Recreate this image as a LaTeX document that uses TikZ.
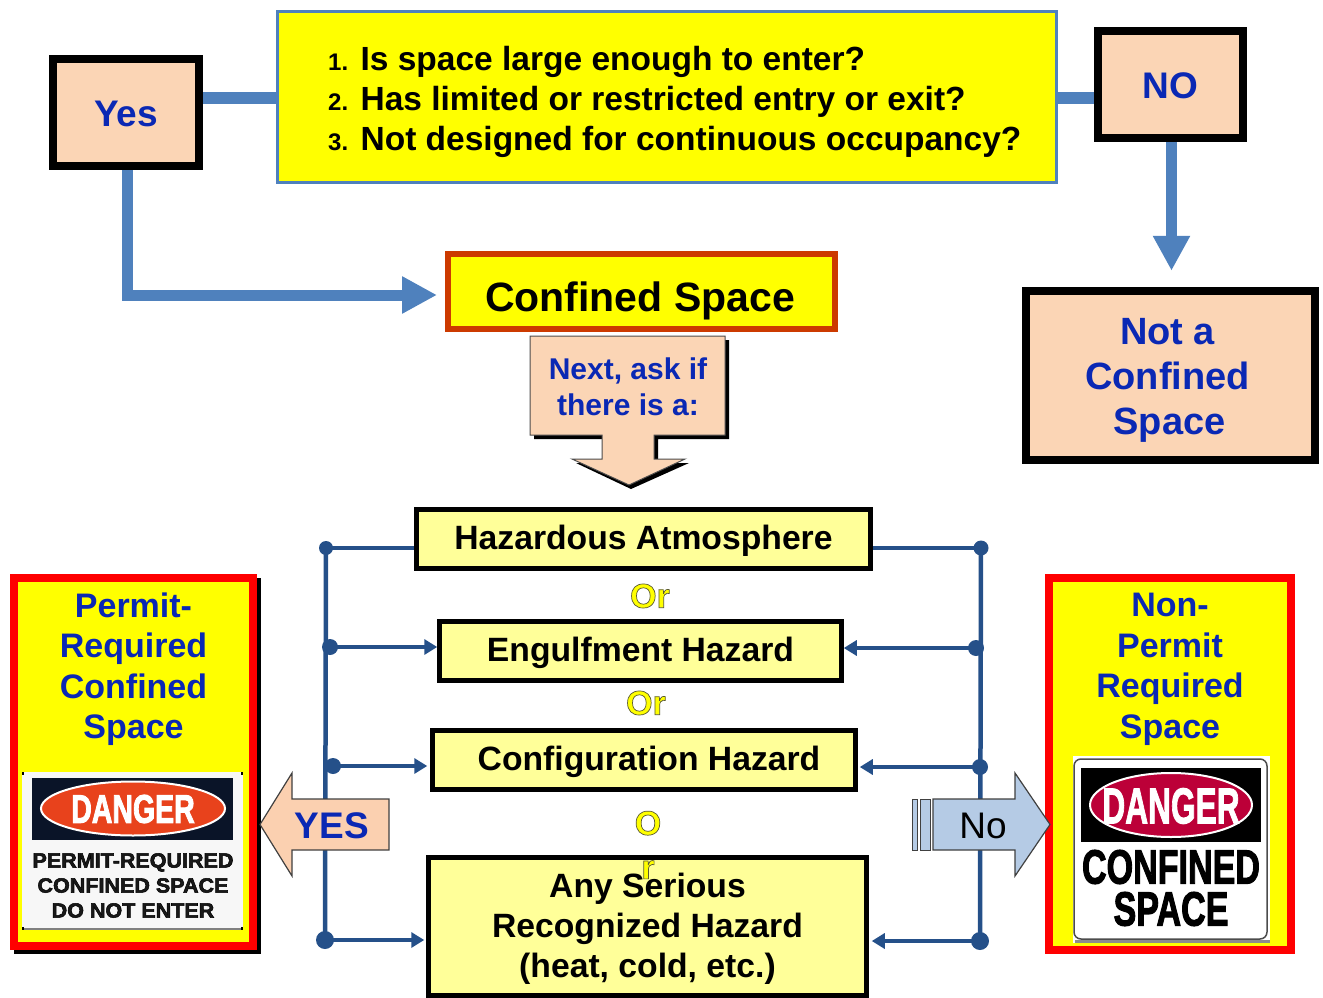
\documentclass[tikz,border=0pt]{standalone}
\usepackage{fontspec}
\usepackage{graphicx}
\setmainfont{Liberation Sans}
\usetikzlibrary{arrows.meta,calc}
\definecolor{peach}{HTML}{FBD5B5}
\definecolor{thickblue}{HTML}{4F81BD}
\definecolor{wire}{HTML}{255089}
\definecolor{lab}{HTML}{0A28B4}
\definecolor{pale}{RGB}{255,255,153}
\definecolor{arrowpeach}{HTML}{FBD0B0}
\definecolor{arrowblue}{HTML}{B5CBE5}
\definecolor{darkred}{HTML}{CC3A00}
\definecolor{signnavy}{HTML}{0A1428}
\definecolor{dangerorange}{HTML}{E8421C}
\definecolor{dangerred}{HTML}{BC0038}
\definecolor{pureyellow}{RGB}{255,255,0}
\definecolor{purered}{RGB}{255,0,0}
\newcommand{\fs}[1]{\fontsize{#1}{#1}\selectfont}
\newcommand{\orout}{\special{pdf:code 2 Tr 0.7 w 0.35 0.35 0.2 RG}}
\newcommand{\orin}{\special{pdf:code 0 Tr 0 w}}
\newcommand{\heavyblack}{\special{pdf:code 2 Tr 1.2 w 0 0 0 RG}}
\newcommand{\heavywhite}{\special{pdf:code 2 Tr 1.0 w 1 1 1 RG}}
\tikzset{
  base/.style={inner sep=0pt,align=center,font=\bfseries,text depth=0pt},
  peachbox/.style={base,draw=black,line width=8pt,fill=peach,text=lab},
  hazard/.style={base,draw=black,line width=4.5pt,fill=pale,text=black,font=\bfseries\fs{33.7}},
  labeltext/.style={inner sep=0pt,align=center,font=\bfseries\fs{34},text=lab},
  thickline/.style={draw=thickblue,line width=11pt},
  thickarrow/.style={thickline,-{Triangle[length=35pt,width=35pt]}},
  wireline/.style={draw=wire,line width=4.5pt},
  wirearrow/.style={wireline,-{Triangle[length=13pt,width=15pt]}},
  dot/.style={circle,fill=wire,inner sep=0pt},
  orword/.style={inner sep=0pt,align=center,text=pureyellow,font=\bfseries\fs{34}},
  redpanel/.style={draw=purered,line width=8pt,fill=pureyellow,inner sep=0pt},
  bigarrow/.style={draw=black!75,line width=1.2pt,line join=miter},
}
\begin{document}
\begin{tikzpicture}[x=1pt,y=-1pt]
\useasboundingbox (0,0) rectangle (1323,998);
\node[base,draw=thickblue,line width=3pt,fill=pureyellow,minimum width=779pt,minimum height=170pt] (main) at (666.5,97) {};
\node[peachbox,minimum width=146pt,minimum height=107pt,font=\bfseries\fs{37}] (yes) at (126,112.5) {\raisebox{-2pt}{Yes}};
\node[peachbox,minimum width=145pt,minimum height=107pt,font=\bfseries\fs{37}] (no) at (1170.5,84.5) {\raisebox{-2pt}{NO}};
\node[inner sep=0pt,align=left,font=\bfseries\fs{33.5},anchor=west,text=black] (qs) at (328,102)
  {{\fs{24}1.} Is space large enough to enter?\\[6.5pt]{\fs{24}2.} Has limited or restricted entry or exit?\\[6.5pt]{\fs{24}3.} Not designed for continuous occupancy?};
\node[base,draw=darkred,line width=6pt,fill=pureyellow,minimum width=387pt,minimum height=75pt,font=\bfseries\fs{41}] (cs) at (641.5,291.5) {\hspace*{-3pt}\raisebox{-10pt}{Confined Space}};
\node[peachbox,line width=8.5pt,minimum width=289pt,minimum height=169pt,font=\bfseries\fs{38}] (nota) at (1170.5,375.5) {\hspace*{-6pt}\raisebox{-2pt}{Not a}\\[7pt]\hspace*{-6pt}\raisebox{-2pt}{Confined}\\[7pt]\hspace*{-2pt}\raisebox{-2pt}{Space}};
\coordinate (yesdown) at ($(yes.south)+(1.5,0)$);
\coordinate (yesturn) at ($(yes.south |- cs.west)+(1.5,3.5)$);
\coordinate (maintap) at ($(main.west)+(0,1)$);
\coordinate (maintapr) at ($(main.east)+(0,1)$);
\draw[thickline] (maintap -| yes.east) -- (maintap);
\draw[thickline] (maintapr) -- (maintapr -| no.west);
\draw[thickarrow] (yesdown) -- (yesturn) -- ($(yesturn -| cs.west)+(-8,0)$);
\coordinate (nodown) at ($(no.south)+(1,0)$);
\coordinate (notaTop) at ($(nodown |- nota.north)+(0,-16)$);
\draw[thickarrow] (nodown) -- (notaTop);
% callout
\fill[black] (534,340) -- (729,340) -- (729,439) -- (658,439) -- (658,463) -- (689,463) -- (631,489) -- (576,463) -- (606,463) -- (606,439) -- (534,439) -- cycle;
\draw[fill=peach,draw=black!70,line width=1pt] (530,336) -- (725,336) -- (725,435) -- (654,435) -- (654,459) -- (685,459) -- (629,485) -- (572,459) -- (602,459) -- (602,435) -- (530,435) -- cycle;
\node[labeltext,font=\bfseries\fs{30}] (next) at (628,387) {Next, ask if\\[6pt]there is a:};
% hazard boxes
\node[hazard,minimum width=454pt,minimum height=59pt] (h1) at (643.5,539) {\raisebox{3pt}{Hazardous Atmosphere}};
\node[hazard,minimum width=402pt,minimum height=59pt] (h2) at (640.5,651) {\raisebox{3pt}{Engulfment Hazard}};
\node[hazard,minimum width=423pt,minimum height=59pt] (h3) at (644,760) {\hspace*{10pt}\raisebox{3pt}{Configuration Hazard}};
\node[hazard,minimum width=438pt,minimum height=138pt] (h4) at (647.5,926.5) {};
% wires
\coordinate (l1) at (326,548); \coordinate (l2) at (330,647); \coordinate (l3) at (333,766); \coordinate (l4) at (325,940);
\coordinate (r1) at (981,548); \coordinate (r2) at (976,648); \coordinate (r3) at (980,767); \coordinate (r4) at (980,941);
\draw[wireline] (l1) -- (l4);
\draw[wireline] (r1) -- (r4);
\draw[wireline] (l1) -- (l1 -| h1.west);
\draw[wireline] (r1) -- (r1 -| h1.east);
\draw[wirearrow] (l2) -- (l2 -| h2.west);
\draw[wirearrow] (r2) -- (r2 -| h2.east);
\draw[wirearrow] (l3) -- ($(l3 -| h3.west)+(-3,0)$);
\draw[wirearrow] (r3) -- ($(r3 -| h3.east)+(2,0)$);
\draw[wirearrow] (l4) -- ($(l4 -| h4.west)+(-2,0)$);
\draw[wirearrow] (r4) -- ($(r4 -| h4.east)+(3,0)$);
\foreach \p/\d in {l1/14,l2/16,l3/16,l4/18,r1/15,r2/16,r3/16,r4/18}{\node[dot,minimum size=\d pt] at (\p) {};}
% ORs
\node[orword] (or1) at (650,596) {\orout Or\orin};
\node[orword] (or2) at (646,703) {\orout Or\orin};
\node[orword] (or3) at (648,845) {\orout O\\[10pt]\orout r\orin};
\node[inner sep=0pt,align=center,font=\bfseries\fs{33.7},text=black] (h4t) at (647.5,928.5) {Any Serious\\[6.5pt]Recognized Hazard\\[6.5pt](heat, cold, etc.)};
% left panel
\fill[black] (14,578) rectangle (261,954);
\node[redpanel,minimum width=239pt,minimum height=368pt] (lp) at (133.5,762) {};
\node[labeltext] (lpt) at (133.5,669) {Permit-\\[6.5pt]Required\\[6.5pt]Confined\\[6.5pt]Space};
\fill[black!3] (22,772) rectangle (243,930);
\fill[black!50] (23,927.5) rectangle (242,930);
\foreach \cx/\cy in {22/772,241/772,22/927,241/927}{\fill[black] (\cx,\cy) rectangle ++(2,3);}
\fill[signnavy] (32,778) rectangle (233,840);
\draw[white,line width=2pt,fill=dangerorange] (133,808.5) ellipse [x radius=92,y radius=27];
\node[inner sep=0pt,text=white,font=\bfseries\fs{38}] (d1) at (133,809) {\scalebox{.75}[1.05]{\heavywhite DANGER\orin}};
\node[inner sep=0pt,align=center,text=black!90,font=\bfseries\fs{20.5}] (d1b) at (133,885.5)
  {\scalebox{1.05}[1]{\special{pdf:code 2 Tr 0.5 w 0 0 0 RG}PERMIT-REQUIRED\orin}\\[4.5pt]\scalebox{1.05}[1]{\special{pdf:code 2 Tr 0.5 w 0 0 0 RG}CONFINED SPACE\orin}\\[4.5pt]\scalebox{1.05}[1]{\special{pdf:code 2 Tr 0.5 w 0 0 0 RG}DO NOT ENTER\orin}};
% right panel
\node[redpanel,minimum width=242pt,minimum height=372pt] (rp) at (1170,764) {};
\node[labeltext] (rpt) at (1170,669.5) {Non-\\[6.5pt]Permit\\[6.5pt]Required\\[6.5pt]Space};
\fill[white] (1073,756) rectangle (1270,943);
\fill[black!45] (1075,940) rectangle (1270,943);
\draw[black!70,line width=1.5pt,fill=white,rounded corners=7pt] (1074,759) rectangle (1267,939);
\fill[black] (1081,768) rectangle (1261,842);
\draw[white,line width=2pt,fill=dangerred] (1171,805) ellipse [x radius=81,y radius=32];
\node[inner sep=0pt,text=white,font=\bfseries\fs{48}] (d2) at (1171,806) {\scalebox{.66}[1.05]{\heavywhite DANGER\orin}};
\node[inner sep=0pt,align=center,text=black,font=\bfseries\fs{48}] (d2b) at (1171,888)
  {\scalebox{.71}[1]{\heavyblack CONFINED\orin}\\[-6pt]\scalebox{.71}[1]{\heavyblack SPACE\orin}};
% big arrows
\draw[bigarrow,fill=arrowpeach] (260,824.5) -- (292,773) -- (292,799) -- (389,799) -- (389,850) -- (292,850) -- (292,876) -- cycle;
\node[inner sep=0pt,text=lab,font=\bfseries\fs{37}] (yesw) at (332,826) {YES};
\draw[bigarrow,fill=arrowblue,line width=1pt] (912,799) rectangle (917,850);
\draw[bigarrow,fill=arrowblue,line width=1pt] (920,799) rectangle (930,850);
\draw[bigarrow,fill=arrowblue] (933,799) -- (1015,799) -- (1015,773) -- (1050,824.5) -- (1015,876) -- (1015,850) -- (933,850) -- cycle;
\node[inner sep=0pt,text=black,font=\fs{37}] (now) at (983,826) {No};
\end{tikzpicture}
\end{document}
